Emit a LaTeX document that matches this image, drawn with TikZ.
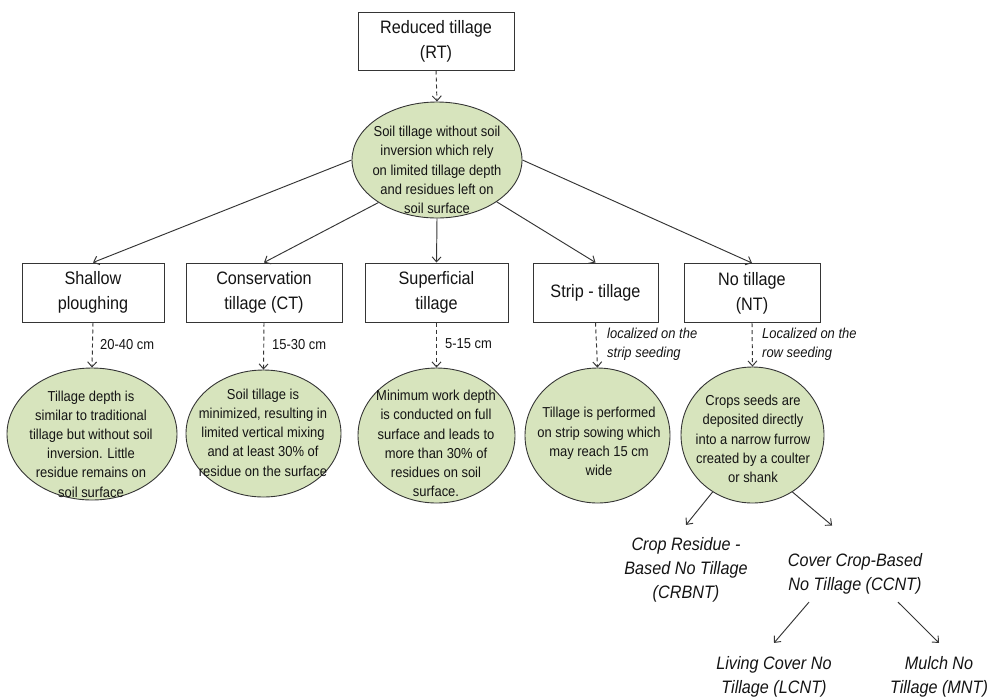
\documentclass[tikz,border=0pt]{standalone}
\usepackage{fontspec}
\setmainfont{Liberation Sans}[FakeStretch=0.9]
\usetikzlibrary{shapes.geometric,arrows.meta}
\definecolor{efill}{HTML}{D7E4BD}
\definecolor{eline}{HTML}{353535}
\definecolor{txt}{HTML}{141414}
\begin{document}
\begin{tikzpicture}[x=1pt,y=-1pt,
 box/.style={draw=eline, line width=1pt, fill=white, align=center, font=\fontsize{18}{25}\selectfont, inner sep=0pt, text=txt, minimum height=59pt},
 oval/.style={ellipse, draw=eline, line width=0.9pt, fill=efill, inner sep=0pt},
 otext/.style={align=center, font=\fontsize{14.4}{19.2}\selectfont, text=txt, inner sep=0pt},
 lbl/.style={align=left, font=\fontsize{14.4}{19}\selectfont, text=txt, anchor=west, inner sep=0pt},
 ilbl/.style={lbl, font=\fontsize{14.4}{19}\selectfont\itshape},
 big/.style={align=center, font=\fontsize{18}{24}\selectfont\itshape, text=txt, inner xsep=2pt},
 arr/.style={-{Straight Barb[length=5pt,width=9pt]}, draw=eline, line width=0.95pt},
 darr/.style={arr, dash pattern=on 4pt off 3pt}]
\useasboundingbox (0,0) rectangle (1003,697);

% top box and main ellipse
\node[box, minimum width=156pt, minimum height=58pt] (rt) at (436,41) {Reduced tillage\\(RT)};
\node[oval, minimum width=170pt, minimum height=116pt] (m) at (437,160) {};
\node[otext] (mt) at (437,170) {Soil tillage without soil\\inversion which rely\\on limited tillage depth\\and residues left on\\soil surface};

% second row boxes
\node[box, minimum width=142pt] (b1) at (93,292.5) {Shallow\\ploughing};
\node[box, minimum width=156pt] (b2) at (264,292.5) {Conservation\\tillage (CT)};
\node[box, minimum width=143pt] (b3) at (436.5,292.5) {Superficial\\tillage};
\node[box, minimum width=125pt] (b4) at (595.5,292.5) {Strip - tillage};
\node[box, minimum width=136pt] (b5) at (752,293) {No tillage\\(NT)};

% third row ellipses
\node[oval, minimum width=170pt, minimum height=132pt] (e1) at (92,434) {};
\node[otext] (t1) at (91,444) {Tillage depth is\\similar to traditional\\tillage but without soil\\inversion. Little\\residue remains on\\soil surface};
\node[oval, minimum width=155pt, minimum height=127pt] (e2) at (263.5,433.5) {};
\node[otext] (t2) at (263,432.5) {Soil tillage is\\minimized, resulting in\\limited vertical mixing\\and at least 30\% of\\residue on the surface};
\node[oval, minimum width=157pt, minimum height=135pt] (e3) at (436.5,435.5) {};
\node[otext] (t3) at (436,443.5) {Minimum work depth\\is conducted on full\\surface and leads to\\more than 30\% of\\residues on soil\\surface.};
\node[oval, minimum width=145pt, minimum height=135pt] (e4) at (597.5,435.5) {};
\node[otext] (t4) at (599,441.5) {Tillage is performed\\on strip sowing which\\may reach 15 cm\\wide};
\node[oval, minimum width=143pt, minimum height=136pt] (e5) at (752.5,435) {};
\node[otext] (t5) at (753,439) {Crops seeds are\\deposited directly\\into a narrow furrow\\created by a coulter\\or shank};

% labels on dashed arrows
\node[lbl] (l1) at (100,345) {20-40 cm};
\node[lbl] (l2) at (272,345) {15-30 cm};
\node[lbl] (l3) at (445,344) {5-15 cm};
\node[ilbl] (l4) at (607,344.5) {localized on the\\strip seeding};
\node[ilbl] (l5) at (762,344.5) {Localized on the\\row seeding};

% bottom labels
\node[big, inner ysep=12.5pt] (crb) at (686,570) {Crop Residue -\\Based No Tillage\\(CRBNT)};
\node[big, inner ysep=8pt] (ccnt) at (855,573.5) {Cover Crop-Based\\No Tillage (CCNT)};
\node[big, inner ysep=13pt] (lcnt) at (774,676.5) {Living Cover No\\Tillage (LCNT)};
\node[big, inner ysep=13pt] (mnt) at (939,676.5) {Mulch No\\Tillage (MNT)};

% connectors
\draw[darr] (rt.south) -- (m.north);
\draw[arr] (m.west) -- (b1.north);
\draw[arr] (m.216) -- (b2.north);
\draw[arr] (m.south) -- (b3.north);
\draw[arr] (m.325) -- (b4.north);
\draw[arr] (m.east) -- (b5.north);

\draw[darr] (b1.south) -- (e1.north);
\draw[darr] (b2.south) -- (e2.north);
\draw[darr] (b3.south) -- (e3.north);
\draw[darr] (b4.south) -- (e4.north);
\draw[darr] (b5.south) -- (e5.north);

\draw[arr] (e5.235) -- (crb.north);
\draw[arr, shorten >=30pt] (e5.305) -- (ccnt.north);
\draw[arr] ([xshift=-46pt]ccnt.south) -- (lcnt.north);
\draw[arr] ([xshift=43pt]ccnt.south) -- (mnt.north);
\end{tikzpicture}
\end{document}
